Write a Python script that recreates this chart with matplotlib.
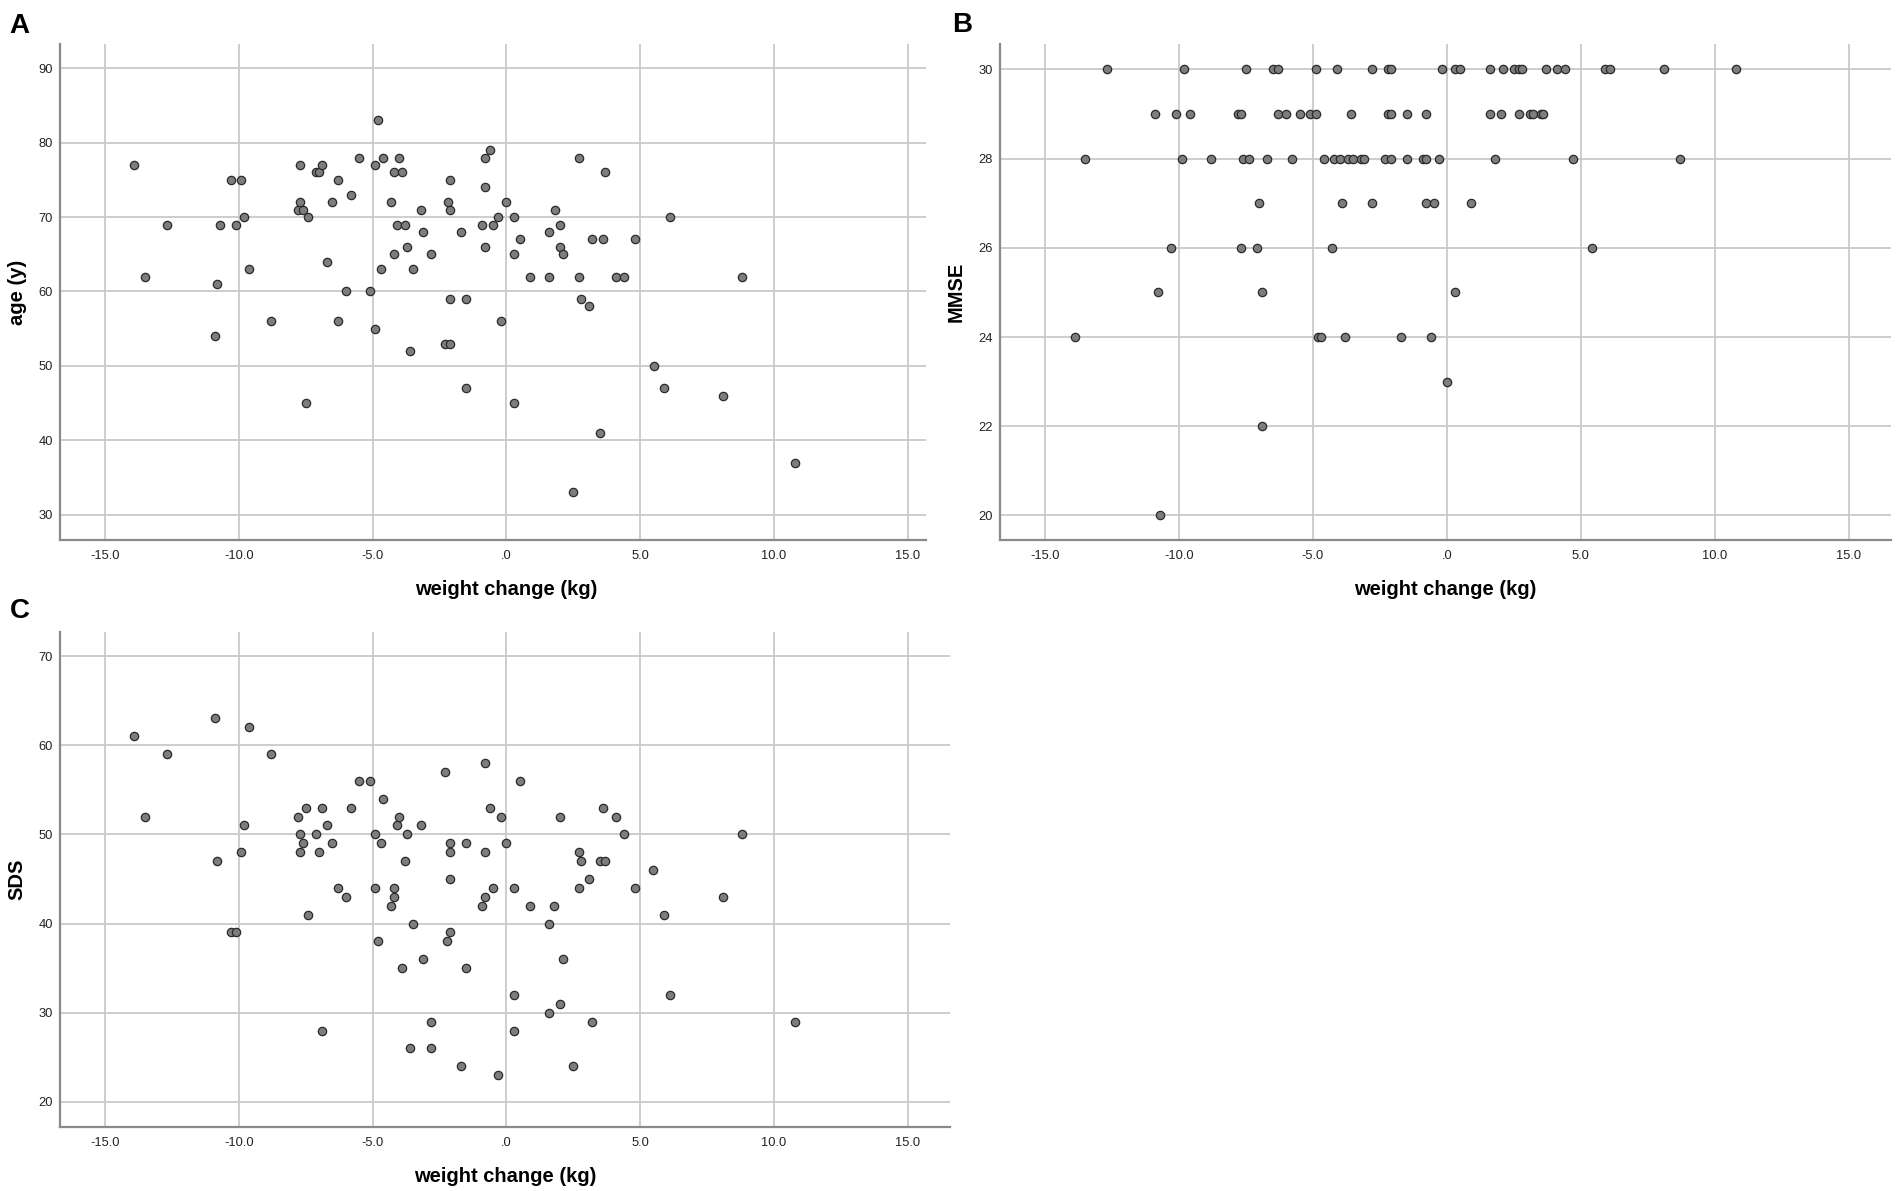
import matplotlib
matplotlib.use('Agg')
import matplotlib.pyplot as plt

plt.rcParams['font.family'] = ['Liberation Sans', 'DejaVu Sans']

# ---------------- dados ----------------
# painel A: idade
weight_a = [-13.9, -13.5, -12.7, -10.9, -10.8, -10.7, -10.3, -10.1, -9.9, -9.8,
            -9.6, -8.8, -7.8, -7.7, -7.7, -7.6, -7.5, -7.4, -7.1, -7.0,
            -6.9, -6.7, -6.5, -6.3, -6.3, -6.0, -5.8, -5.5, -5.1, -4.9,
            -4.9, -4.8, -4.7, -4.6, -4.3, -4.2, -4.2, -4.1, -4.0, -3.9,
            -3.8, -3.7, -3.6, -3.5, -3.2, -3.1, -2.8, -2.3, -2.2, -2.1,
            -2.1, -2.1, -2.1, -1.7, -1.5, -1.5, -0.9, -0.8, -0.8, -0.8,
            -0.6, -0.5, -0.3, -0.2, 0.0, 0.3, 0.3, 0.3, 0.5, 0.9,
            1.6, 1.6, 1.8, 2.0, 2.0, 2.1, 2.5, 2.7, 2.7, 2.8,
            3.1, 3.2, 3.5, 3.6, 3.7, 4.1, 4.4, 4.8, 5.5, 5.9,
            6.1, 8.1, 8.8, 10.8]
age = [77, 62, 69, 54, 61, 69, 75, 69, 75, 70,
       63, 56, 71, 72, 77, 71, 45, 70, 76, 76,
       77, 64, 72, 75, 56, 60, 73, 78, 60, 77,
       55, 83, 63, 78, 72, 76, 65, 69, 78, 76,
       69, 66, 52, 63, 71, 68, 65, 53, 72, 53,
       75, 71, 59, 68, 59, 47, 69, 78, 74, 66,
       79, 69, 70, 56, 72, 70, 65, 45, 67, 62,
       68, 62, 71, 69, 66, 65, 33, 78, 62, 59,
       58, 67, 41, 67, 76, 62, 62, 67, 50, 47,
       70, 46, 62, 37]

# painel B: MMSE
weight_b = [-12.7, -9.8, -7.5, -6.5, -6.3, -4.9, -4.1, -2.8, -2.2, -2.1,
            -0.2, 0.3, 0.5, 1.6, 2.1, 2.5, 2.7, 2.8, 3.7, 4.1,
            4.4, 5.9, 6.1, 8.1, 10.8,
            -10.9, -10.1, -9.6, -7.8, -7.7, -6.3, -6.0, -5.5, -5.1, -4.9,
            -3.6, -2.2, -2.1, -1.5, -0.8, 1.6, 2.0, 2.7, 3.1, 3.2,
            3.5, 3.6,
            -13.5, -9.9, -8.8, -7.6, -7.4, -6.7, -5.8, -4.6, -4.2, -4.0,
            -3.7, -3.5, -3.2, -3.1, -2.3, -2.1, -1.5, -0.9, -0.8, -0.3,
            1.8, 4.7, 8.7,
            -7.0, -3.9, -2.8, -0.8, -0.5, 0.9,
            -10.3, -7.7, -7.1, -4.3, 5.4,
            -10.8, -6.9, 0.3,
            -13.9, -4.8, -4.7, -3.8, -1.7, -0.6,
            0.0, -6.9, -10.7]
mmse = [30] * 25 + [29] * 22 + [28] * 23 + [27] * 6 + [26] * 5 + [25] * 3 + \
       [24] * 6 + [23, 22, 20]

# painel C: SDS
weight_c = [-13.9, -13.5, -12.7, -10.9, -10.8, -10.3, -10.1, -9.9, -9.8, -9.6,
            -8.8, -7.8, -7.7, -7.7, -7.6, -7.5, -7.4, -7.1, -7.0, -6.9,
            -6.9, -6.7, -6.5, -6.3, -6.0, -5.8, -5.5, -5.1, -4.9, -4.9,
            -4.8, -4.7, -4.6, -4.3, -4.2, -4.2, -4.1, -4.0, -3.9, -3.8,
            -3.7, -3.6, -3.5, -3.2, -3.1, -2.8, -2.8, -2.3, -2.2, -2.1,
            -2.1, -2.1, -2.1, -1.7, -1.5, -1.5, -0.9, -0.8, -0.8, -0.8,
            -0.6, -0.5, -0.2, -0.3, 0.0, 0.3, 0.3, 0.3, 0.5, 0.9,
            1.6, 1.6, 1.8, 2.0, 2.0, 2.1, 2.5, 2.7, 2.7, 2.8,
            3.1, 3.2, 3.5, 3.6, 3.7, 4.1, 4.4, 4.8, 5.5, 5.9,
            6.1, 8.1, 8.8, 10.8]
sds = [61, 52, 59, 63, 47, 39, 39, 48, 51, 62,
       59, 52, 50, 48, 49, 53, 41, 50, 48, 53,
       28, 51, 49, 44, 43, 53, 56, 56, 50, 44,
       38, 49, 54, 42, 44, 43, 51, 52, 35, 47,
       50, 26, 40, 51, 36, 29, 26, 57, 38, 49,
       48, 45, 39, 24, 49, 35, 42, 58, 48, 43,
       53, 44, 52, 23, 49, 44, 32, 28, 56, 42,
       40, 30, 42, 52, 31, 36, 24, 48, 44, 47,
       45, 29, 47, 53, 47, 52, 50, 44, 46, 41,
       32, 43, 50, 29]

x_ticks = [-15, -10, -5, 0, 5, 10, 15]
x_tick_labels = ['-15.0', '-10.0', '-5.0', '.0', '5.0', '10.0', '15.0']
age_ticks = [30, 40, 50, 60, 70, 80, 90]
mmse_ticks = [20, 22, 24, 26, 28, 30]
sds_ticks = [20, 30, 40, 50, 60, 70]

# ---------------- figura ----------------
fig = plt.figure(figsize=(19.02, 11.91), dpi=100)

ax_a = fig.add_axes([0.03155, 0.5466, 0.4553, 0.4165])
ax_b = fig.add_axes([0.5258, 0.5466, 0.4685, 0.4165])
ax_c = fig.add_axes([0.03155, 0.05374, 0.4679, 0.4156])

# (eixo, x, y, ticks y, ylim, xlim, rotulo y, posicao x do rotulo x, posicao x do rotulo y)
paineis = [
    (ax_a, weight_a, age, age_ticks, (26.6, 93.27), (-16.68, 15.68), 'age (y)', 0.515, -0.038),
    (ax_b, weight_b, mmse, mmse_ticks, (19.45, 30.57), (-16.68, 16.58), 'MMSE', 0.5, -0.039),
    (ax_c, weight_c, sds, sds_ticks, (17.19, 72.69), (-16.68, 16.58), 'SDS', 0.5, -0.038),
]

for ax, xs, ys, yt, ylim, xlim, ylab, xlab_x, ylab_x in paineis:
    ax.set_axisbelow(True)
    ax.scatter(xs, ys, s=36, facecolor='#7d7d7d', edgecolor='#2a2a2a', linewidth=0.9, zorder=3)
    ax.set_xlim(*xlim)
    ax.set_ylim(*ylim)
    ax.set_xticks(x_ticks)
    ax.set_xticklabels(x_tick_labels)
    ax.set_yticks(yt)
    ax.grid(True, color='#c9c9c9', linewidth=1.3)
    for s in ['top', 'right']:
        ax.spines[s].set_visible(False)
    for s in ['left', 'bottom']:
        ax.spines[s].set_color('#8a8a8a')
        ax.spines[s].set_linewidth(1.6)
    ax.tick_params(axis='both', length=0, labelsize=9.3, colors='#222222')
    ax.tick_params(axis='y', pad=5)
    ax.tick_params(axis='x', pad=7)
    ax.set_xlabel('weight change (kg)', fontsize=14.5, fontweight='bold')
    ax.set_ylabel(ylab, fontsize=14.5, fontweight='bold')
    ax.xaxis.set_label_coords(xlab_x, -0.08)
    ax.yaxis.set_label_coords(ylab_x, 0.5)

# letras dos paineis
fig.text(9 / 1902, 1 - 33 / 1191, 'A', fontsize=20, fontweight='bold', va='baseline')
fig.text(952 / 1902, 1 - 32 / 1191, 'B', fontsize=20, fontweight='bold', va='baseline')
fig.text(10 / 1902, 1 - 618 / 1191, 'C', fontsize=20, fontweight='bold', va='baseline')

fig.savefig('out.png', dpi=100)
